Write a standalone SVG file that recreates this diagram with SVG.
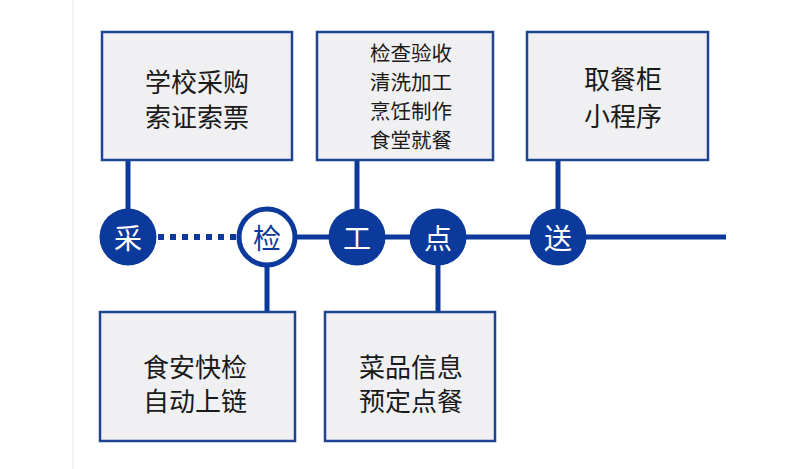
<svg xmlns="http://www.w3.org/2000/svg" width="789" height="469" viewBox="0 0 789 469">
<defs>
<style>
.box{fill:#f0f0f2;stroke:#1f4591;stroke-width:2.5}
.t{font-family:"Noto Sans CJK SC","Noto Sans CJK JP",sans-serif;fill:#1a1a1a;text-anchor:middle;dominant-baseline:central}
.big{font-size:26px}
.sm{font-size:20.5px}
.dot{fill:#0b3a9c}
.dt{font-family:"Noto Sans CJK SC","Noto Sans CJK JP",sans-serif;font-size:28px;fill:#ffffff;text-anchor:middle;dominant-baseline:central}
.ln{stroke:#0b3a9c;stroke-width:5;fill:none}
</style>
</defs>
<rect width="789" height="469" fill="#ffffff"/>
<line x1="73" y1="0" x2="73" y2="469" stroke="#f0f0f0" stroke-width="1.5"/>
<g id="connectors">
<line class="ln" x1="128" y1="160" x2="128" y2="237"/>
<line class="ln" x1="357" y1="160" x2="357" y2="237"/>
<line class="ln" x1="558" y1="160" x2="558" y2="237"/>
<line class="ln" x1="267" y1="237" x2="267" y2="312"/>
<line class="ln" x1="438" y1="237" x2="438" y2="312"/>
<line x1="158" y1="237" x2="236" y2="237" stroke="#0b3a9c" stroke-width="6" stroke-dasharray="6 6"/>
<line class="ln" x1="296" y1="237" x2="726" y2="237" stroke-width="5.5"/>
</g>
<g id="box-purchase">
<rect class="box" x="102" y="32" width="190" height="128"/>
<text class="t big" x="197" y="80">学校采购</text>
<text class="t big" x="197" y="115">索证索票</text>
</g>
<g id="box-process">
<rect class="box" x="317" y="32" width="176" height="128"/>
<text class="t sm" x="411" y="52">检查验收</text>
<text class="t sm" x="411" y="81">清洗加工</text>
<text class="t sm" x="411" y="110">烹饪制作</text>
<text class="t sm" x="411" y="139">食堂就餐</text>
</g>
<g id="box-deliver">
<rect class="box" x="527" y="32" width="181" height="128"/>
<text class="t big" x="623" y="77">取餐柜</text>
<text class="t big" x="623" y="114">小程序</text>
</g>
<g id="box-check">
<rect class="box" x="100" y="312" width="195" height="129"/>
<text class="t big" x="195" y="365">食安快检</text>
<text class="t big" x="195" y="399">自动上链</text>
</g>
<g id="box-order">
<rect class="box" x="325" y="312" width="170" height="129"/>
<text class="t big" x="411" y="365">菜品信息</text>
<text class="t big" x="411" y="399">预定点餐</text>
</g>
<g id="node-cai">
<circle class="dot" cx="128" cy="237" r="28.5"/>
<text class="dt" x="128" y="237">采</text>
</g>
<g id="node-jian">
<circle cx="267" cy="237" r="28" fill="#ffffff" stroke="#0b3a9c" stroke-width="5"/>
<text class="dt" x="267" y="237" style="fill:#0b3a9c">检</text>
</g>
<g id="node-gong">
<circle class="dot" cx="357" cy="237" r="28.5"/>
<text class="dt" x="357" y="237">工</text>
</g>
<g id="node-dian">
<circle class="dot" cx="438" cy="237" r="28.5"/>
<text class="dt" x="438" y="237">点</text>
</g>
<g id="node-song">
<circle class="dot" cx="558" cy="237" r="28.5"/>
<text class="dt" x="558" y="237">送</text>
</g>
</svg>
